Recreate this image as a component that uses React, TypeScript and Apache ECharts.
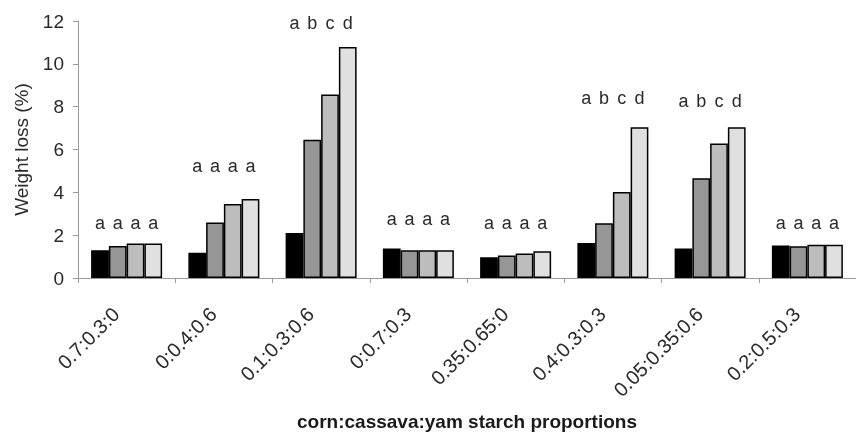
import React, { useEffect, useRef } from "react";
import * as echarts from "echarts";

const categories = [
  "0.7:0.3:0",
  "0:0.4:0.6",
  "0.1:0.3:0.6",
  "0:0.7:0.3",
  "0.35:0.65:0",
  "0.4:0.3:0.3",
  "0.05:0.35:0.6",
  "0.2:0.5:0.3",
];

const series1 = [1.3, 1.18, 2.1, 1.38, 0.97, 1.64, 1.38, 1.52];
const series2 = [1.49, 2.59, 6.46, 1.29, 1.05, 2.56, 4.66, 1.48];
const series3 = [1.61, 3.46, 8.57, 1.29, 1.14, 4.01, 6.28, 1.55];
const series4 = [1.61, 3.69, 10.79, 1.29, 1.25, 7.04, 7.04, 1.55];

const letters1 = ["a", "a", "a", "a", "a", "a", "a", "a"];
const letters2 = ["a", "a", "b", "a", "a", "b", "b", "a"];
const letters3 = ["a", "a", "c", "a", "a", "c", "c", "a"];
const letters4 = ["a", "a", "d", "a", "a", "d", "d", "a"];

// height (in % weight loss) at which the significance letters sit
const letterLevel = [2.15, 4.8, 11.5, 2.35, 2.15, 8.0, 7.85, 2.15];

const yTicks = [0, 2, 4, 6, 8, 10, 12];

const colors = ["#000000", "#969696", "#bdbdbd", "#e0e0e0"];

export default function App() {
  const ref = useRef<HTMLDivElement>(null);

  useEffect(() => {
    if (!ref.current) return;
    const chart = echarts.init(ref.current, null, { renderer: "svg" });
    const values = [series1, series2, series3, series4];
    const letters = [letters1, letters2, letters3, letters4];
    const font = "'Liberation Sans', Arial, sans-serif";

    const seriesList: any[] = [];
    values.forEach((vals, i) => {
      seriesList.push({
        type: "bar",
        stack: "s" + i,
        data: vals,
        itemStyle: { color: colors[i], borderColor: "#000", borderWidth: 1.5 },
        barCategoryGap: "27%",
        barGap: "0%",
      });
      seriesList.push({
        type: "bar",
        stack: "s" + i,
        data: vals.map((v, k) => letterLevel[k] - v),
        itemStyle: { color: "rgba(0,0,0,0)", borderWidth: 0 },
        barCategoryGap: "27%",
        barGap: "0%",
        label: {
          show: true,
          position: "top",
          distance: 0,
          formatter: (p: any) => letters[i][p.dataIndex],
          fontFamily: font,
          fontSize: 18,
          color: "#2a2a2a",
        },
      });
    });

    chart.setOption({
      animation: false,
      grid: { left: 78, top: 21, bottom: 153.5, width: 783, containLabel: false },
      xAxis: {
        type: "category",
        data: categories,
        name: "corn:cassava:yam starch proportions",
        nameLocation: "middle",
        nameGap: 134,
        nameTextStyle: { fontFamily: font, fontSize: 19, fontWeight: "bold", color: "#1a1a1a" },
        axisLine: { lineStyle: { color: "#9a9a9a", width: 1 } },
        axisTick: { show: true, interval: 0, length: 5, lineStyle: { color: "#9a9a9a" } },
        axisLabel: {
          interval: 0,
          rotate: 45,
          margin: 22,
          padding: [0, 15, 0, 0],
          fontFamily: font,
          fontSize: 20,
          color: "#2a2a2a",
        },
      },
      yAxis: {
        type: "value",
        min: yTicks[0],
        max: yTicks[yTicks.length - 1],
        interval: 2,
        name: "Weight loss (%)",
        nameLocation: "middle",
        nameGap: 47,
        nameTextStyle: { fontFamily: font, fontSize: 19, color: "#2a2a2a" },
        axisLine: { show: true, lineStyle: { color: "#9a9a9a", width: 1 } },
        axisTick: { show: true, length: 5, lineStyle: { color: "#9a9a9a" } },
        splitLine: { show: false },
        axisLabel: { fontFamily: font, fontSize: 19, color: "#2a2a2a", margin: 14 },
      },
      series: seriesList,
    });

    return () => chart.dispose();
  }, []);

  return (
    <div
      ref={ref}
      style={{ position: "fixed", left: 0, top: 0, width: 856, height: 436 }}
    />
  );
}
